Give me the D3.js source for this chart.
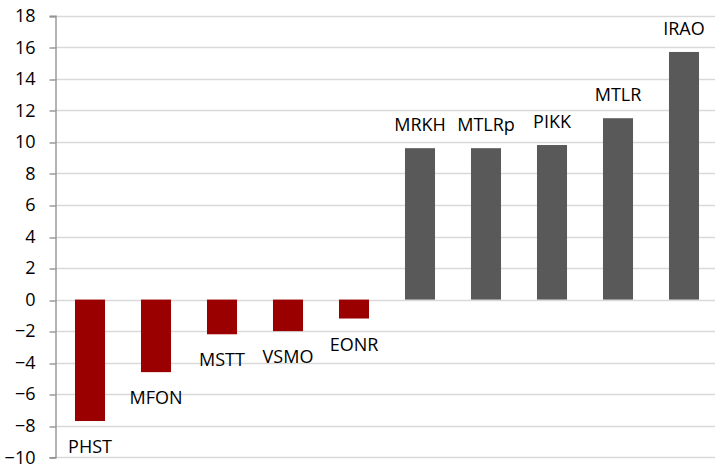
<!DOCTYPE html>
<html>
<head>
<meta charset="utf-8">
<script src="https://cdn.jsdelivr.net/npm/d3@7"></script>
<style>
  body { margin: 0; background: #fff; }
  text { font-family: "Open Sans", sans-serif; }
</style>
</head>
<body>
<div id="chart"></div>
<script>
// data
var tickers = ["PHST", "MFON", "MSTT", "VSMO", "EONR", "MRKH", "MTLRp", "PIKK", "MTLR", "IRAO"]
var values = [-7.7, -4.6, -2.2, -2.0, -1.2, 9.6, 9.6, 9.8, 11.5, 15.7]
var yTicks = [-10, -8, -6, -4, -2, 0, 2, 4, 6, 8, 10, 12, 14, 16, 18]

var width = 715
var height = 472

var data = tickers.map(function(t, i){ return {name: t, value: values[i]} })

var svg = d3.select("#chart")
  .append("svg")
    .attr("width", width)
    .attr("height", height)

var y = d3.scaleLinear()
  .domain([-10, 18])
  .range([457.3, 15.7])

var x = d3.scaleBand()
  .domain(tickers)
  .range([57, 717])
  .paddingInner(0.545)
  .paddingOuter(0.2725)

// gridlines
svg.append("g")
  .selectAll("line")
  .data(yTicks)
  .enter().append("line")
    .attr("x1", 55)
    .attr("x2", width)
    .attr("y1", d => Math.round(y(d)) + 0.5)
    .attr("y2", d => Math.round(y(d)) + 0.5)
    .style("stroke", "#d9d9d9")
    .style("stroke-width", 1.3)

// y axis
var yAxis = d3.axisLeft(y)
  .tickValues(yTicks)
  .tickSize(6)
  .tickPadding(14)

var ag = svg.append("g")
  .attr("transform", "translate(55.5,0)")
  .call(yAxis)

ag.select(".domain").style("stroke", "#8c8c8c").style("stroke-width", 1.3)
ag.selectAll(".tick line").style("stroke", "#8c8c8c").style("stroke-width", 1.3)
  .attr("transform", d => "translate(0," + (Math.round(y(d)) + 0.5 - y(d)) + ")")
ag.selectAll(".tick text")
  .style("font-family", "'Open Sans', sans-serif")
  .style("font-size", "18px")
  .style("fill", "#000")

// bars
svg.append("g")
  .selectAll("rect")
  .data(data)
  .enter().append("rect")
    .attr("x", d => x(d.name))
    .attr("width", x.bandwidth())
    .attr("y", d => y(Math.max(0, d.value)))
    .attr("height", d => Math.abs(y(d.value) - y(0)))
    .style("fill", d => d.value < 0 ? "#9b0000" : "#595959")

// labels
svg.append("g")
  .selectAll("text")
  .data(data)
  .enter().append("text")
    .attr("x", d => x(d.name) + x.bandwidth() / 2)
    .attr("y", d => d.value < 0 ? y(d.value) + 32 : y(d.value) - 17)
    .attr("text-anchor", "middle")
    .style("font-size", "18px")
    .style("fill", "#000")
    .text(d => d.name)
</script>
</body>
</html>
